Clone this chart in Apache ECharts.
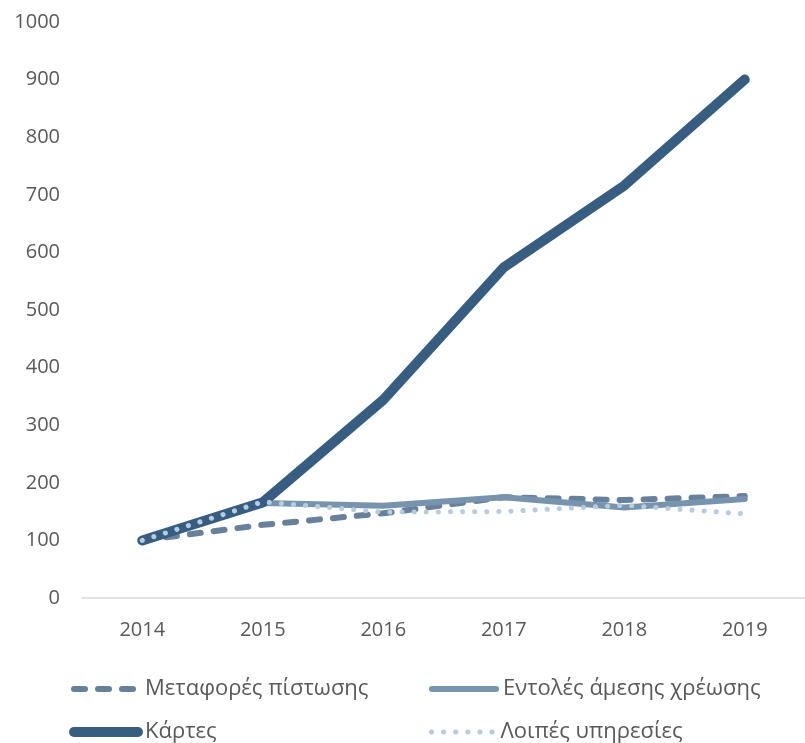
<!DOCTYPE html>
<html>
<head>
<meta charset="utf-8">
<script src="https://cdn.jsdelivr.net/npm/echarts@6/dist/echarts.min.js"></script>
<style>
  html, body { margin: 0; padding: 0; background: #fff; }
  #chart { width: 805px; height: 743px; }
</style>
</head>
<body>
<div id="chart"></div>
<script>
// δείκτες πληρωμών, 2014 = 100
const years = ['2014', '2015', '2016', '2017', '2018', '2019'];
const yTicks = [0, 100, 200, 300, 400, 500, 600, 700, 800, 900, 1000];
const metafores = [100, 127, 147, 175, 170, 177];
const entoles = [100, 165, 160, 175, 157, 172];
const kartes = [100, 166, 344, 574, 716, 900];
const loipes = [100, 167, 149, 150, 161, 146];

const textColor = '#595959';
const font = 'Open Sans, Noto Sans, sans-serif';

const styles = {
  metafores: { color: '#68819a', line: { width: 6, type: [11, 13], cap: 'round' } },
  entoles: { color: '#7893ad', line: { width: 6, cap: 'round' } },
  kartes: { color: '#375e80', line: { width: 10, cap: 'round', join: 'round' } },
  loipes: { color: '#b7cce0', line: { width: 5, type: [0.1, 12], cap: 'round' } }
};

const chart = echarts.init(document.getElementById('chart'));

function legendAt(name, st, left, top, w) {
  return {
    data: [name],
    left: left,
    top: top,
    itemWidth: w,
    itemHeight: 20,
    itemGap: 0,
    itemStyle: { opacity: 0 },
    lineStyle: Object.assign({}, st.line),
    textStyle: { color: textColor, fontSize: 22, fontFamily: font, padding: [0, 0, 0, 2] },
    selectedMode: false
  };
}

const option = {
  animation: false,
  grid: { left: 82, right: -8, top: 22, bottom: 145 },
  legend: [
    legendAt('Μεταφορές πίστωσης', styles.metafores, 66, 673, 64),
    legendAt('Εντολές άμεσης χρέωσης', styles.entoles, 424, 673, 64),
    legendAt('Κάρτες', styles.kartes, 64, 716, 64),
    legendAt('Λοιπές υπηρεσίες', styles.loipes, 424, 716, 62)
  ],
  xAxis: {
    type: 'category',
    data: years,
    boundaryGap: true,
    axisTick: { show: false },
    axisLine: { lineStyle: { color: '#d9d9d9', width: 1.5 } },
    axisLabel: { color: textColor, fontSize: 20, fontFamily: font, margin: 22 }
  },
  yAxis: {
    type: 'value',
    min: yTicks[0],
    max: yTicks[yTicks.length - 1],
    interval: 100,
    splitLine: { show: false },
    axisLine: { show: false },
    axisTick: { show: false },
    axisLabel: { color: textColor, fontSize: 20, fontFamily: font, margin: 22, formatter: v => String(v) }
  },
  series: [
    {
      name: 'Μεταφορές πίστωσης', type: 'line', data: metafores,
      symbol: 'none', color: styles.metafores.color, lineStyle: styles.metafores.line
    },
    {
      name: 'Εντολές άμεσης χρέωσης', type: 'line', data: entoles,
      symbol: 'none', color: styles.entoles.color, lineStyle: styles.entoles.line
    },
    {
      name: 'Κάρτες', type: 'line', data: kartes,
      symbol: 'none', color: styles.kartes.color, lineStyle: styles.kartes.line
    },
    {
      name: 'Λοιπές υπηρεσίες', type: 'line', data: loipes,
      symbol: 'none', color: styles.loipes.color, lineStyle: styles.loipes.line
    }
  ]
};

chart.setOption(option);
</script>
</body>
</html>
